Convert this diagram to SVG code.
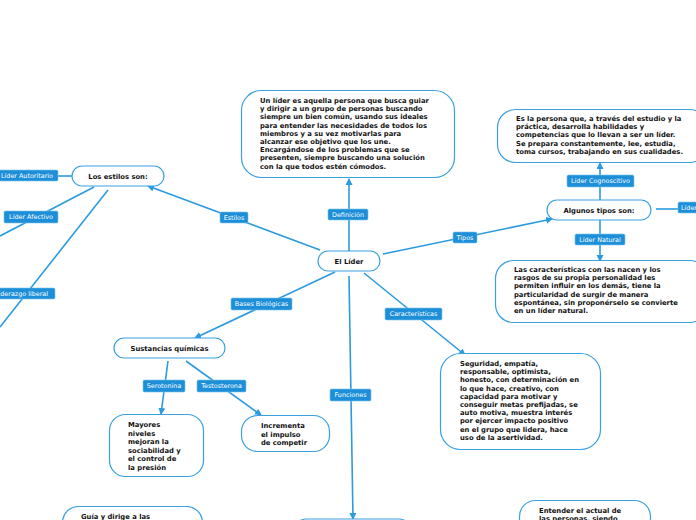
<svg xmlns="http://www.w3.org/2000/svg" width="696" height="520" viewBox="0 0 696 520">
<defs>
<marker id="arr" markerWidth="8" markerHeight="8" refX="6" refY="3.5" orient="auto" markerUnits="userSpaceOnUse">
<path d="M0,0 L7,3.5 L0,7 Z" fill="#2b9be0"/>
</marker>
<style>
.n{fill:#fff;stroke:#3aa0e2;stroke-width:1.2}
.t{font-family:"DejaVu Sans",Verdana,sans-serif;font-weight:bold;font-size:6.8px;fill:#111}
.c{stroke:#2b9be0;stroke-width:1.6;fill:none}
.lb{fill:#1d8fd8;stroke:#7cc3ee;stroke-width:0.6}
.lt{font-family:"DejaVu Sans",Verdana,sans-serif;font-size:6.4px;fill:#fff}
</style>
</defs>
<rect width="696" height="520" fill="#fff"/>
<g id="connectors">
<line class="c" x1="349" y1="251" x2="349" y2="179" marker-end="url(#arr)"/>
<line class="c" x1="320" y1="250" x2="148" y2="186" marker-end="url(#arr)"/>
<line class="c" x1="58" y1="176" x2="72" y2="176"/>
<line class="c" x1="94" y1="187" x2="0" y2="236"/>
<line class="c" x1="108" y1="190" x2="0" y2="327"/>
<line class="c" x1="383" y1="254" x2="552" y2="219" marker-end="url(#arr)"/>
<line class="c" x1="600" y1="200" x2="600" y2="163" marker-end="url(#arr)"/>
<line class="c" x1="656" y1="209" x2="680" y2="209"/>
<line class="c" x1="600" y1="220" x2="600" y2="261" marker-end="url(#arr)"/>
<line class="c" x1="335" y1="272" x2="195" y2="338" marker-end="url(#arr)"/>
<line class="c" x1="168" y1="361" x2="161" y2="414" marker-end="url(#arr)"/>
<line class="c" x1="186" y1="361" x2="261" y2="415" marker-end="url(#arr)"/>
<line class="c" x1="364" y1="273" x2="465" y2="355" marker-end="url(#arr)"/>
<line class="c" x1="349" y1="276" x2="353" y2="519" marker-end="url(#arr)"/>
</g>
<g id="labels">
<g id="lbl-definicion"><rect class="lb" x="328" y="209" width="40" height="11" rx="1.5"/><text class="lt" x="348" y="216.8" text-anchor="middle">Definición</text></g>
<g id="lbl-estilos"><rect class="lb" x="220" y="212" width="28" height="11" rx="1.5"/><text class="lt" x="234" y="219.8" text-anchor="middle">Estilos</text></g>
<g id="lbl-autoritario"><rect class="lb" x="-4" y="170" width="62" height="11" rx="1.5"/><text class="lt" x="27" y="177.8" text-anchor="middle">Líder Autoritario</text></g>
<g id="lbl-afectivo"><rect class="lb" x="4" y="211" width="54" height="12" rx="1.5"/><text class="lt" x="31" y="219.3" text-anchor="middle">Líder Afectivo</text></g>
<g id="lbl-liberal"><rect class="lb" x="-12" y="288" width="67" height="11" rx="1.5"/><text class="lt" x="21.5" y="295.8" text-anchor="middle">Liderazgo liberal</text></g>
<g id="lbl-tipos"><rect class="lb" x="453" y="232" width="24" height="11" rx="1.5"/><text class="lt" x="465" y="239.8" text-anchor="middle">Tipos</text></g>
<g id="lbl-cognoscitivo"><rect class="lb" x="567" y="175" width="67" height="12" rx="1.5"/><text class="lt" x="600.5" y="183.3" text-anchor="middle">Líder Cognoscitivo</text></g>
<g id="lbl-lider-right"><rect class="lb" x="678" y="202" width="40" height="11" rx="1.5"/><text class="lt" x="681" y="209.8">Líder</text></g>
<g id="lbl-natural"><rect class="lb" x="575" y="234" width="50" height="11" rx="1.5"/><text class="lt" x="600" y="241.8" text-anchor="middle">Líder Natural</text></g>
<g id="lbl-bases"><rect class="lb" x="231" y="298" width="61" height="12" rx="1.5"/><text class="lt" x="261.5" y="306.3" text-anchor="middle">Bases Biológicas</text></g>
<g id="lbl-serotonina"><rect class="lb" x="143" y="380" width="42" height="12" rx="1.5"/><text class="lt" x="164" y="388.3" text-anchor="middle">Serotonina</text></g>
<g id="lbl-testosterona"><rect class="lb" x="197" y="380" width="49" height="12" rx="1.5"/><text class="lt" x="221.5" y="388.3" text-anchor="middle">Testosterona</text></g>
<g id="lbl-caracteristicas"><rect class="lb" x="385" y="308" width="57" height="12" rx="1.5"/><text class="lt" x="413.5" y="316.3" text-anchor="middle">Características</text></g>
<g id="lbl-funciones"><rect class="lb" x="330" y="389" width="41" height="12" rx="1.5"/><text class="lt" x="350.5" y="397.3" text-anchor="middle">Funciones</text></g>
</g>
<g id="node-lider"><rect class="n" x="318" y="251" width="62" height="20" rx="10"/><text class="t" x="349" y="263.5" text-anchor="middle">El Líder</text></g>
<g id="node-definicion"><rect class="n" x="241.5" y="90.5" width="213" height="87" rx="20"/>
<text class="t" x="260"><tspan x="260" y="103">Un líder es aquella persona que busca guiar</tspan><tspan x="260" y="111.2">y dirigir a un grupo de personas buscando</tspan><tspan x="260" y="119.4">siempre un bien común, usando sus ideales</tspan><tspan x="260" y="127.6">para entender las necesidades de todos los</tspan><tspan x="260" y="135.8">miembros y a su vez motivarlas para</tspan><tspan x="260" y="144">alcanzar ese objetivo que los une.</tspan><tspan x="260" y="152.2">Encargándose de los problemas que se</tspan><tspan x="260" y="160.4">presenten, siempre buscando una solución</tspan><tspan x="260" y="168.6">con la que todos estén cómodos.</tspan></text></g>
<g id="node-estilos"><rect class="n" x="72" y="166" width="92" height="20" rx="10"/><text class="t" x="118" y="178.5" text-anchor="middle">Los estilos son:</text></g>
<g id="node-tipos"><rect class="n" x="547" y="200" width="104" height="20" rx="10"/><text class="t" x="599" y="212.5" text-anchor="middle">Algunos tipos son:</text></g>
<g id="node-cognoscitivo"><rect class="n" x="497.5" y="109.5" width="210" height="53" rx="18"/>
<text class="t"><tspan x="516" y="121">Es la persona que, a través del estudio y la</tspan><tspan x="516" y="129.2">práctica, desarrolla habilidades y</tspan><tspan x="516" y="137.4">competencias que lo llevan a ser un líder.</tspan><tspan x="516" y="145.6">Se prepara constantemente, lee, estudia,</tspan><tspan x="516" y="153.8">toma cursos, trabajando en sus cualidades.</tspan></text></g>
<g id="node-natural"><rect class="n" x="495.5" y="260.5" width="212" height="62" rx="18"/>
<text class="t"><tspan x="514" y="272">Las características con las nacen y los</tspan><tspan x="514" y="280.2">rasgos de su propia personalidad les</tspan><tspan x="514" y="288.4">permiten influir en los demás, tiene la</tspan><tspan x="514" y="296.6">particularidad de surgir de manera</tspan><tspan x="514" y="304.8">espontánea, sin proponérselo se convierte</tspan><tspan x="514" y="313">en un líder natural.</tspan></text></g>
<g id="node-sustancias"><rect class="n" x="114" y="338" width="111" height="20" rx="10"/><text class="t" x="169.5" y="350.5" text-anchor="middle">Sustancias químicas</text></g>
<g id="node-mayores"><rect class="n" x="109.5" y="414.5" width="94" height="62" rx="16"/>
<text class="t"><tspan x="128" y="427">Mayores</tspan><tspan x="128" y="435.5">niveles</tspan><tspan x="128" y="444">mejoran la</tspan><tspan x="128" y="452.5">sociabilidad y</tspan><tspan x="128" y="461">el control de</tspan><tspan x="128" y="469.5">la presión</tspan></text></g>
<g id="node-incrementa"><rect class="n" x="241.5" y="415.5" width="88" height="36" rx="16"/>
<text class="t"><tspan x="261" y="428">Incrementa</tspan><tspan x="261" y="436.5">el impulso</tspan><tspan x="261" y="445">de competir</tspan></text></g>
<g id="node-caracteristicas"><rect class="n" x="440.5" y="353.5" width="160" height="96" rx="20"/>
<text class="t"><tspan x="460" y="366">Seguridad, empatía,</tspan><tspan x="460" y="374.2">responsable, optimista,</tspan><tspan x="460" y="382.4">honesto, con determinación en</tspan><tspan x="460" y="390.6">lo que hace, creativo, con</tspan><tspan x="460" y="398.8">capacidad para motivar y</tspan><tspan x="460" y="407">conseguir metas prefijadas, se</tspan><tspan x="460" y="415.2">auto motiva, muestra interés</tspan><tspan x="460" y="423.4">por ejercer impacto positivo</tspan><tspan x="460" y="431.6">en el grupo que lidera, hace</tspan><tspan x="460" y="439.8">uso de la asertividad.</tspan></text></g>
<g id="node-funciones"><rect class="n" x="295.5" y="519" width="114" height="30" rx="10"/></g>
<g id="node-guia"><rect class="n" x="62.5" y="506.5" width="140" height="40" rx="16"/><text class="t" x="81" y="519">Guía y dirige a las</text></g>
<g id="node-entender"><rect class="n" x="519.5" y="500.5" width="131" height="40" rx="16"/>
<text class="t"><tspan x="539" y="512.5">Entender el actual de</tspan><tspan x="539" y="520.7">las personas, siendo</tspan></text></g>
</svg>
